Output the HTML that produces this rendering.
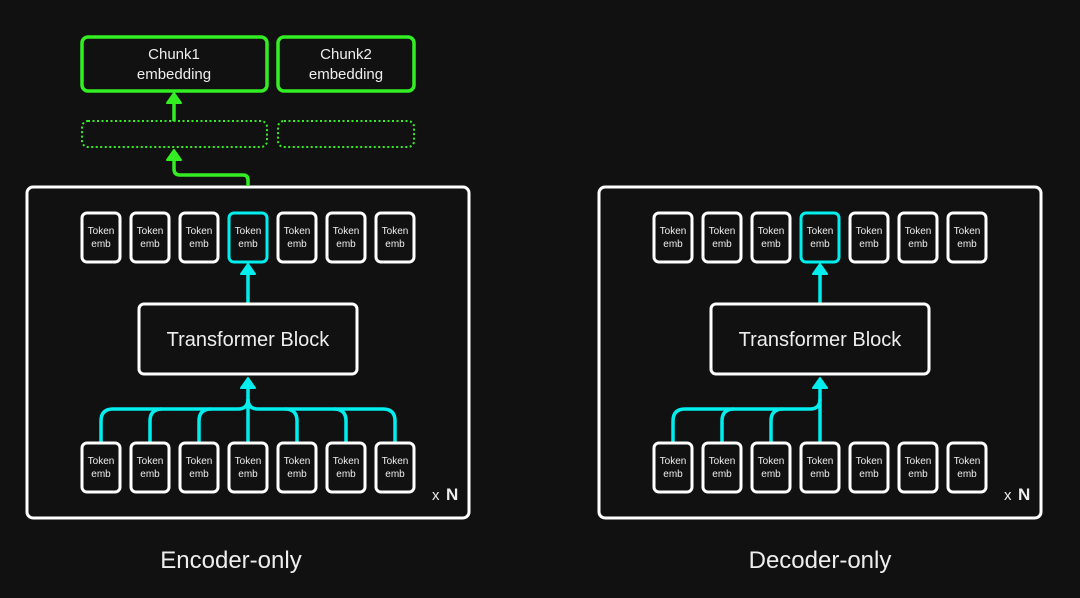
<!DOCTYPE html>
<html><head><meta charset="utf-8"><style>
html,body{margin:0;padding:0;background:#111111;}
svg{display:block;}
text{font-family:"Liberation Sans",sans-serif;fill:#eeeeee;}
</style></head><body>
<svg width="1080" height="598" viewBox="0 0 1080 598" xmlns="http://www.w3.org/2000/svg">
<rect width="1080" height="598" fill="#111111"/>
<defs>
<g id="tok">
<rect x="0" y="0" width="38" height="49" rx="5" fill="#111" stroke="#fff" stroke-width="3"/>
</g>
</defs>

<!-- ENCODER -->
<g>
<rect x="27" y="187" width="442" height="331" rx="6" fill="none" stroke="#fff" stroke-width="3"/>
<!-- green -->
<rect x="82" y="37" width="185" height="54" rx="6" fill="none" stroke="#33ee22" stroke-width="3.5"/>
<rect x="278" y="37" width="136" height="54" rx="6" fill="none" stroke="#33ee22" stroke-width="3.5"/>
<text x="174" y="59" font-size="15" text-anchor="middle">Chunk1</text>
<text x="174" y="79" font-size="15" text-anchor="middle">embedding</text>
<text x="346" y="59" font-size="15" text-anchor="middle">Chunk2</text>
<text x="346" y="79" font-size="15" text-anchor="middle">embedding</text>
<rect x="82" y="121" width="185" height="26" rx="6" fill="none" stroke="#33ee22" stroke-width="2" stroke-dasharray="2 2.5"/>
<rect x="278" y="121" width="136" height="26" rx="6" fill="none" stroke="#33ee22" stroke-width="2" stroke-dasharray="2 2.5"/>
<path d="M174,121 V101" stroke="#33ee22" stroke-width="3.5" fill="none"/>
<polygon points="167,103 181,103 174,93" fill="#33ee22" stroke="#33ee22" stroke-width="2" stroke-linejoin="round"/>
<path d="M248,186 V180 Q248,175 243,175 H180 Q174,175 174,169 V158" stroke="#33ee22" stroke-width="3.5" fill="none"/>
<polygon points="167,160 181,160 174,150" fill="#33ee22" stroke="#33ee22" stroke-width="2" stroke-linejoin="round"/>

<!-- top tokens -->
<use href="#tok" x="82" y="213"/><use href="#tok" x="131" y="213"/><use href="#tok" x="180" y="213"/>
<rect x="229" y="213" width="38" height="49" rx="5" fill="#111" stroke="#00eeee" stroke-width="3"/>
<use href="#tok" x="278" y="213"/><use href="#tok" x="327" y="213"/><use href="#tok" x="376" y="213"/>
<g font-size="10" text-anchor="middle">
<text x="101" y="234">Token</text><text x="101" y="247">emb</text>
<text x="150" y="234">Token</text><text x="150" y="247">emb</text>
<text x="199" y="234">Token</text><text x="199" y="247">emb</text>
<text x="248" y="234">Token</text><text x="248" y="247">emb</text>
<text x="297" y="234">Token</text><text x="297" y="247">emb</text>
<text x="346" y="234">Token</text><text x="346" y="247">emb</text>
<text x="395" y="234">Token</text><text x="395" y="247">emb</text>
</g>
<path d="M248,304 V272" stroke="#00eeee" stroke-width="3.5"/>
<polygon points="241,274 255,274 248,264" fill="#00eeee" stroke="#00eeee" stroke-width="2" stroke-linejoin="round"/>
<rect x="139" y="304" width="218" height="70" rx="5" fill="#111" stroke="#fff" stroke-width="3"/>
<text x="248" y="346" font-size="20" text-anchor="middle">Transformer Block</text>
<!-- bottom connectors -->
<g stroke="#00eeee" stroke-width="3.5" fill="none">
<path d="M101,442 V421 Q101,409 113,409 H238 Q248,409 248,399"/>
<path d="M150,442 V421 Q150,409 162,409"/>
<path d="M199,442 V421 Q199,409 211,409"/>
<path d="M248,442 V386"/>
<path d="M395,442 V421 Q395,409 383,409 H258 Q248,409 248,399"/>
<path d="M346,442 V421 Q346,409 334,409"/>
<path d="M297,442 V421 Q297,409 285,409"/>
</g>
<polygon points="241,388 255,388 248,378" fill="#00eeee" stroke="#00eeee" stroke-width="2" stroke-linejoin="round"/>
<use href="#tok" x="82" y="443"/><use href="#tok" x="131" y="443"/><use href="#tok" x="180" y="443"/><use href="#tok" x="229" y="443"/>
<use href="#tok" x="278" y="443"/><use href="#tok" x="327" y="443"/><use href="#tok" x="376" y="443"/>
<g font-size="10" text-anchor="middle">
<text x="101" y="464">Token</text><text x="101" y="477">emb</text>
<text x="150" y="464">Token</text><text x="150" y="477">emb</text>
<text x="199" y="464">Token</text><text x="199" y="477">emb</text>
<text x="248" y="464">Token</text><text x="248" y="477">emb</text>
<text x="297" y="464">Token</text><text x="297" y="477">emb</text>
<text x="346" y="464">Token</text><text x="346" y="477">emb</text>
<text x="395" y="464">Token</text><text x="395" y="477">emb</text>
</g>
<text x="432" y="500" font-size="15">x</text>
<text x="446" y="500" font-size="17" font-weight="bold" fill="#fff">N</text>
<text x="231" y="568" font-size="24" text-anchor="middle">Encoder-only</text>
</g>

<!-- DECODER -->
<g transform="translate(572,0)">
<rect x="27" y="187" width="442" height="331" rx="6" fill="none" stroke="#fff" stroke-width="3"/>
<use href="#tok" x="82" y="213"/><use href="#tok" x="131" y="213"/><use href="#tok" x="180" y="213"/>
<rect x="229" y="213" width="38" height="49" rx="5" fill="#111" stroke="#00eeee" stroke-width="3"/>
<use href="#tok" x="278" y="213"/><use href="#tok" x="327" y="213"/><use href="#tok" x="376" y="213"/>
<g font-size="10" text-anchor="middle">
<text x="101" y="234">Token</text><text x="101" y="247">emb</text>
<text x="150" y="234">Token</text><text x="150" y="247">emb</text>
<text x="199" y="234">Token</text><text x="199" y="247">emb</text>
<text x="248" y="234">Token</text><text x="248" y="247">emb</text>
<text x="297" y="234">Token</text><text x="297" y="247">emb</text>
<text x="346" y="234">Token</text><text x="346" y="247">emb</text>
<text x="395" y="234">Token</text><text x="395" y="247">emb</text>
</g>
<path d="M248,304 V272" stroke="#00eeee" stroke-width="3.5"/>
<polygon points="241,274 255,274 248,264" fill="#00eeee" stroke="#00eeee" stroke-width="2" stroke-linejoin="round"/>
<rect x="139" y="304" width="218" height="70" rx="5" fill="#111" stroke="#fff" stroke-width="3"/>
<text x="248" y="346" font-size="20" text-anchor="middle">Transformer Block</text>
<g stroke="#00eeee" stroke-width="3.5" fill="none">
<path d="M101,442 V421 Q101,409 113,409 H238 Q248,409 248,399"/>
<path d="M150,442 V421 Q150,409 162,409"/>
<path d="M199,442 V421 Q199,409 211,409"/>
<path d="M248,442 V386"/>
</g>
<polygon points="241,388 255,388 248,378" fill="#00eeee" stroke="#00eeee" stroke-width="2" stroke-linejoin="round"/>
<use href="#tok" x="82" y="443"/><use href="#tok" x="131" y="443"/><use href="#tok" x="180" y="443"/><use href="#tok" x="229" y="443"/>
<use href="#tok" x="278" y="443"/><use href="#tok" x="327" y="443"/><use href="#tok" x="376" y="443"/>
<g font-size="10" text-anchor="middle">
<text x="101" y="464">Token</text><text x="101" y="477">emb</text>
<text x="150" y="464">Token</text><text x="150" y="477">emb</text>
<text x="199" y="464">Token</text><text x="199" y="477">emb</text>
<text x="248" y="464">Token</text><text x="248" y="477">emb</text>
<text x="297" y="464">Token</text><text x="297" y="477">emb</text>
<text x="346" y="464">Token</text><text x="346" y="477">emb</text>
<text x="395" y="464">Token</text><text x="395" y="477">emb</text>
</g>
<text x="432" y="500" font-size="15">x</text>
<text x="446" y="500" font-size="17" font-weight="bold" fill="#fff">N</text>
<text x="248" y="568" font-size="24" text-anchor="middle">Decoder-only</text>
</g>
</svg>
</body></html>
